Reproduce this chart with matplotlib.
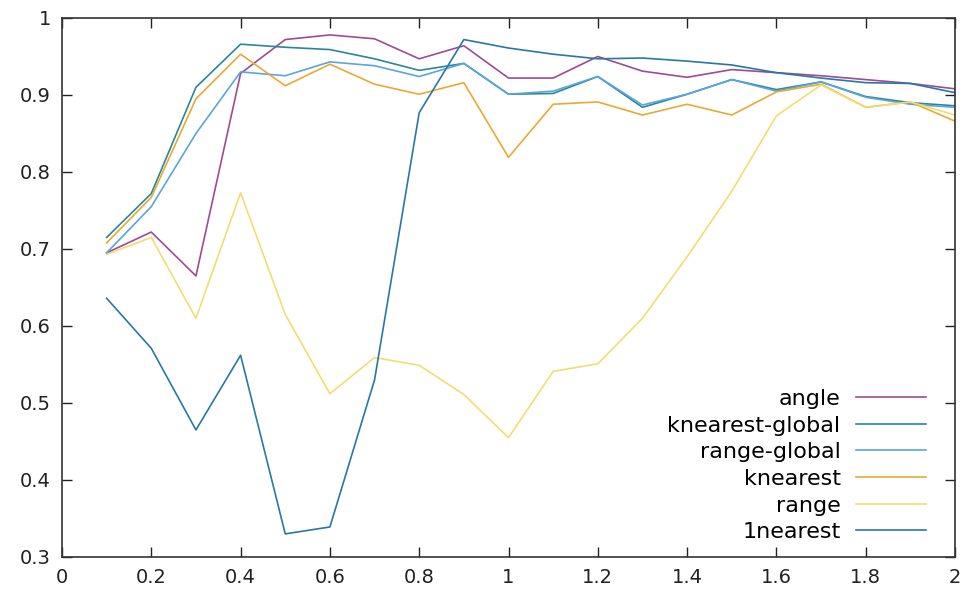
import matplotlib
matplotlib.use("Agg")
import matplotlib.pyplot as plt

x = [0.1, 0.2, 0.3, 0.4, 0.5, 0.6, 0.7, 0.8, 0.9, 1.0,
     1.1, 1.2, 1.3, 1.4, 1.5, 1.6, 1.7, 1.8, 1.9, 2.0]

angle = [0.695, 0.722, 0.665, 0.928, 0.972, 0.978, 0.973, 0.947, 0.964, 0.922,
         0.922, 0.950, 0.931, 0.923, 0.933, 0.929, 0.925, 0.920, 0.915, 0.908]
knearest_global = [0.715, 0.772, 0.910, 0.966, 0.962, 0.959, 0.947, 0.932, 0.941, 0.901,
                   0.902, 0.924, 0.884, 0.901, 0.920, 0.907, 0.917, 0.898, 0.890, 0.886]
range_global = [0.695, 0.755, 0.850, 0.930, 0.925, 0.943, 0.938, 0.924, 0.941, 0.901,
                0.905, 0.924, 0.887, 0.901, 0.920, 0.905, 0.917, 0.897, 0.888, 0.884]
knearest = [0.708, 0.767, 0.895, 0.953, 0.912, 0.940, 0.914, 0.901, 0.916, 0.819,
            0.888, 0.891, 0.874, 0.888, 0.874, 0.904, 0.914, 0.884, 0.891, 0.866]
range_ = [0.693, 0.715, 0.610, 0.773, 0.615, 0.512, 0.559, 0.549, 0.511, 0.455,
          0.541, 0.551, 0.610, 0.690, 0.775, 0.873, 0.913, 0.884, 0.891, 0.874]
nearest1 = [0.636, 0.571, 0.465, 0.562, 0.330, 0.339, 0.530, 0.877, 0.972, 0.961,
            0.953, 0.947, 0.948, 0.944, 0.939, 0.929, 0.922, 0.916, 0.915, 0.903]

series = [
    ("angle", angle, "#9b4c95"),
    ("knearest-global", knearest_global, "#2a8796"),
    ("range-global", range_global, "#5aa5dc"),
    ("knearest", knearest, "#e9a935"),
    ("range", range_, "#f5dc72"),
    ("1nearest", nearest1, "#2a77a6"),
]

xticks = [0, 0.2, 0.4, 0.6, 0.8, 1, 1.2, 1.4, 1.6, 1.8, 2]
xlabels = ["0", "0.2", "0.4", "0.6", "0.8", "1", "1.2", "1.4", "1.6", "1.8", "2"]
yticks = [0.3, 0.4, 0.5, 0.6, 0.7, 0.8, 0.9, 1]
ylabels = ["0.3", "0.4", "0.5", "0.6", "0.7", "0.8", "0.9", "1"]

fig = plt.figure(figsize=(9.64, 5.94), dpi=100)
ax = fig.add_axes([0.0643, 0.0623, 0.9264, 0.9074])

for name, vals, col in series:
    ax.plot(x, vals, color=col, lw=1.2, label=name)

ax.set_xlim(0, 2)
ax.set_ylim(0.3, 1)
ax.set_xticks(xticks)
ax.set_xticklabels(xlabels)
ax.set_yticks(yticks)
ax.set_yticklabels(ylabels)
ax.tick_params(direction="in", length=7, width=1, top=True, right=True,
               labelsize=14, colors="#222222", pad=8)
for s in ax.spines.values():
    s.set_color("#333333")
    s.set_linewidth(1.2)

ax.legend(loc="lower right", frameon=False, markerfirst=False, fontsize=16,
          handlelength=3.15, handletextpad=0.7, labelspacing=0.3,
          borderaxespad=0.0, bbox_to_anchor=(0.9776, 0.011))

fig.savefig("out.png", dpi=100)
